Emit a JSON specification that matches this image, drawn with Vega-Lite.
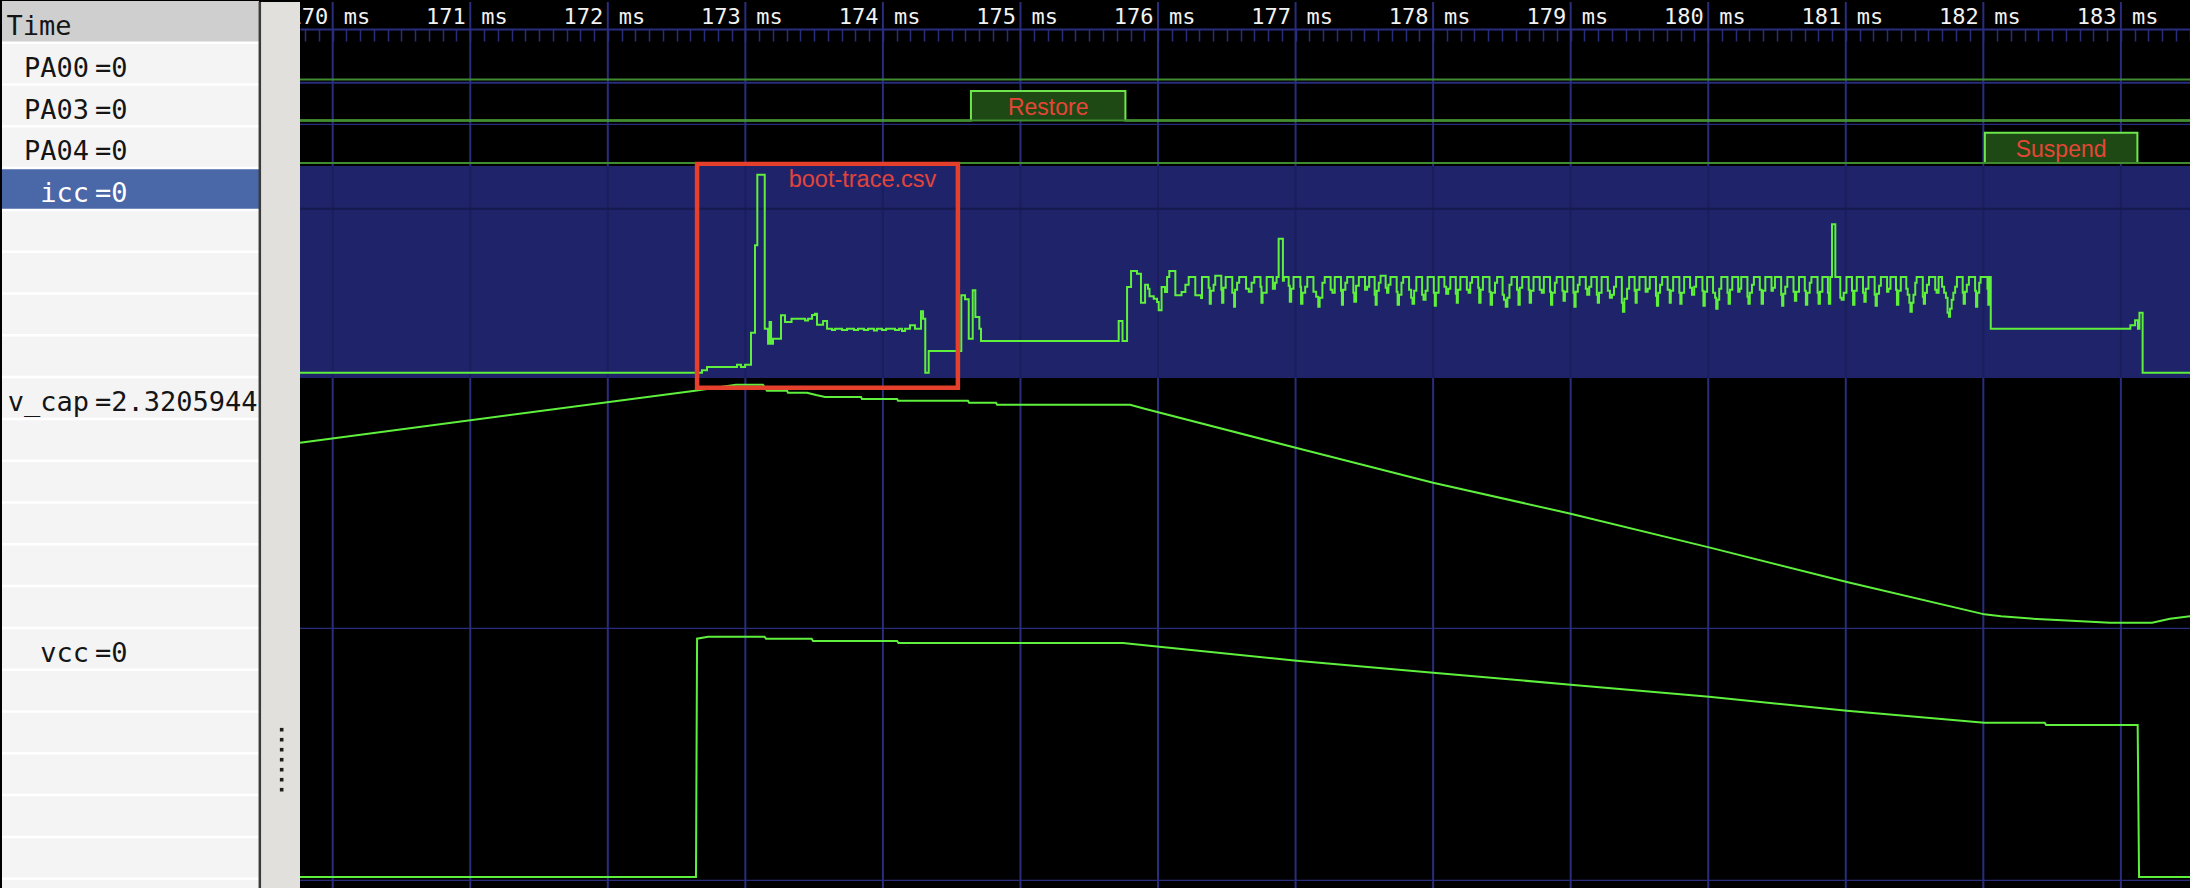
{
"$schema":"https://vega.github.io/schema/vega-lite/v6.json",
"padding":0,"background":"#000000","spacing":0,"bounds":"flush",
"config":{"view":{"stroke":null},"concat":{"spacing":0}},
"resolve":{"scale":{"x":"independent","y":"independent"},"axis":{"x":"independent","y":"independent"}},
"datasets":{
"ticks":[{"t":170,"label":"170"},{"t":171,"label":"171"},{"t":172,"label":"172"},{"t":173,"label":"173"},{"t":174,"label":"174"},{"t":175,"label":"175"},{"t":176,"label":"176"},{"t":177,"label":"177"},{"t":178,"label":"178"},{"t":179,"label":"179"},{"t":180,"label":"180"},{"t":181,"label":"181"},{"t":182,"label":"182"},{"t":183,"label":"183"}],
"rows":[{"r":1,"name":"PA00","val":"=0","sel":false},{"r":2,"name":"PA03","val":"=0","sel":false},{"r":3,"name":"PA04","val":"=0","sel":false},{"r":4,"name":"icc","val":"=0","sel":true},{"r":5},{"r":6},{"r":7},{"r":8},{"r":9,"name":"v_cap","val":"=2.3205944","sel":false},{"r":10},{"r":11},{"r":12},{"r":13},{"r":14},{"r":15,"name":"vcc","val":"=0","sel":false},{"r":16},{"r":17},{"r":18},{"r":19},{"r":20},{"r":21}],
"grip":[{"k":0},{"k":1},{"k":2},{"k":3},{"k":4},{"k":5},{"k":6}],
"pa00":[{"t":169.7623,"v":0},{"t":183.517,"v":0}],
"pa03":[{"t":169.7623,"v":0},{"t":174.64,"v":1},{"t":175.763,"v":0},{"t":183.517,"v":0}],
"pa04":[{"t":169.7623,"v":0},{"t":182.011,"v":1},{"t":183.12,"v":0},{"t":183.517,"v":0}],
"pulses":[{"sig":"PA03","t0":174.64,"t1":175.763,"label":"Restore"},{"sig":"PA04","t0":182.011,"t1":183.12,"label":"Suspend"}],
"note":[{"t0":172.649,"t1":174.545,"label":"boot-trace.csv"}],
"vcap":[{"t":169.7623,"v":2.326},{"t":172.634,"v":2.482},{"t":172.932,"v":2.5},{"t":173.128,"v":2.5},{"t":173.157,"v":2.482},{"t":173.303,"v":2.482},{"t":173.31,"v":2.476},{"t":173.448,"v":2.476},{"t":173.514,"v":2.469},{"t":173.579,"v":2.463},{"t":173.841,"v":2.463},{"t":173.848,"v":2.457},{"t":174.103,"v":2.457},{"t":174.11,"v":2.452},{"t":174.619,"v":2.452},{"t":174.626,"v":2.446},{"t":174.822,"v":2.446},{"t":174.83,"v":2.44},{"t":175.797,"v":2.44},{"t":175.903,"v":2.428},{"t":177.008,"v":2.31},{"t":178.0,"v":2.206},{"t":179.0,"v":2.113},{"t":180.006,"v":2.012},{"t":181.008,"v":1.908},{"t":182.008,"v":1.811},{"t":182.129,"v":1.805},{"t":182.39,"v":1.797},{"t":182.572,"v":1.793},{"t":182.921,"v":1.786},{"t":183.227,"v":1.786},{"t":183.357,"v":1.798},{"t":183.517,"v":1.806}],
"vcc":[{"t":169.7623,"v":0},{"t":172.641,"v":0},{"t":172.649,"v":2.383},{"t":172.729,"v":2.403},{"t":173.139,"v":2.403},{"t":173.15,"v":2.383},{"t":173.482,"v":2.383},{"t":173.492,"v":2.36},{"t":174.103,"v":2.36},{"t":174.113,"v":2.34},{"t":175.746,"v":2.34},{"t":175.903,"v":2.317},{"t":177.008,"v":2.163},{"t":178.0,"v":2.043},{"t":179.0,"v":1.923},{"t":180.006,"v":1.803},{"t":181.008,"v":1.663},{"t":182.008,"v":1.543},{"t":182.446,"v":1.543},{"t":182.456,"v":1.52},{"t":183.122,"v":1.52},{"t":183.132,"v":0},{"t":183.517,"v":0}],
"icc":[{"t":169.7623,"v":0},{"t":172.685,"v":0.24},{"t":172.721,"v":0.57},{"t":172.939,"v":0.8},{"t":172.968,"v":0.57},{"t":172.998,"v":0.8},{"t":173.041,"v":4.0},{"t":173.07,"v":12.74},{"t":173.087,"v":19.8},{"t":173.141,"v":4.4},{"t":173.165,"v":2.9},{"t":173.176,"v":5.07},{"t":173.187,"v":2.9},{"t":173.201,"v":3.4},{"t":173.259,"v":5.74},{"t":173.288,"v":5.07},{"t":173.336,"v":5.4},{"t":173.434,"v":5.22},{"t":173.456,"v":5.4},{"t":173.485,"v":5.77},{"t":173.506,"v":5.9},{"t":173.521,"v":4.8},{"t":173.565,"v":5.17},{"t":173.594,"v":4.4},{"t":173.63,"v":4.27},{"t":173.652,"v":4.4},{"t":173.703,"v":4.27},{"t":173.739,"v":4.4},{"t":173.79,"v":4.27},{"t":173.819,"v":4.4},{"t":173.863,"v":4.27},{"t":173.892,"v":4.4},{"t":173.935,"v":4.22},{"t":173.957,"v":4.4},{"t":173.994,"v":4.27},{"t":174.023,"v":4.4},{"t":174.088,"v":4.27},{"t":174.117,"v":4.4},{"t":174.139,"v":4.17},{"t":174.161,"v":4.4},{"t":174.197,"v":4.74},{"t":174.233,"v":4.4},{"t":174.277,"v":6.14},{"t":174.292,"v":5.4},{"t":174.308,"v":0},{"t":174.333,"v":2.17},{"t":174.57,"v":7.74},{"t":174.597,"v":7.34},{"t":174.624,"v":3.4},{"t":174.653,"v":8.24},{"t":174.672,"v":5.57},{"t":174.701,"v":4.4},{"t":174.713,"v":3.17},{"t":175.714,"v":5.17},{"t":175.742,"v":3.17},{"t":175.775,"v":8.57},{"t":175.804,"v":10.17},{"t":175.847,"v":9.9},{"t":175.876,"v":7.0},{"t":175.906,"v":8.8},{"t":175.927,"v":8.4},{"t":175.938,"v":7.64},{"t":175.969,"v":7.4},{"t":175.993,"v":7.07},{"t":176.005,"v":6.24},{"t":176.026,"v":8.57},{"t":176.051,"v":8.07},{"t":176.066,"v":9.57},{"t":176.082,"v":10.17},{"t":176.126,"v":7.74},{"t":176.171,"v":8.07},{"t":176.199,"v":8.8},{"t":176.223,"v":9.57},{"t":176.271,"v":7.74},{"t":176.313,"v":7.47},
{"t":176.32,"v":9.57},{"t":176.368,"v":8.5},{"t":176.376,"v":6.9},{"t":176.384,"v":8.2},{"t":176.404,"v":8.8},{"t":176.416,"v":9.7},{"t":176.46,"v":8.3},{"t":176.466,"v":7.0},{"t":176.475,"v":8.5},{"t":176.492,"v":9.57},{"t":176.54,"v":8.0},{"t":176.553,"v":6.6},{"t":176.56,"v":8.3},{"t":176.575,"v":9.0},{"t":176.59,"v":9.57},{"t":176.64,"v":8.4},{"t":176.66,"v":8.1},{"t":176.68,"v":9.0},{"t":176.7,"v":9.57},{"t":176.745,"v":8.6},{"t":176.752,"v":7.0},{"t":176.76,"v":8.0},{"t":176.79,"v":9.57},{"t":176.835,"v":8.4},{"t":176.85,"v":9.0},{"t":176.862,"v":9.57},{"t":176.877,"v":13.4},{"t":176.908,"v":9.2},{"t":176.915,"v":9.57},{"t":176.95,"v":8.7},{"t":176.958,"v":7.1},{"t":176.968,"v":8.4},{"t":176.985,"v":9.57},{"t":177.035,"v":8.6},{"t":177.04,"v":6.9},{"t":177.05,"v":8.0},{"t":177.07,"v":8.6},{"t":177.085,"v":9.57},{"t":177.13,"v":8.1},{"t":177.15,"v":7.6},{"t":177.165,"v":6.6},{"t":177.175,"v":7.5},{"t":177.195,"v":9.0},{"t":177.212,"v":9.57},{"t":177.255,"v":8.3},{"t":177.268,"v":8.0},{"t":177.285,"v":9.57},{"t":177.33,"v":8.2},{"t":177.337,"v":6.8},{"t":177.345,"v":8.3},{"t":177.362,"v":9.0},{"t":177.375,"v":9.57},{"t":177.42,"v":8.0},{"t":177.427,"v":7.1},{"t":177.44,"v":8.7},{"t":177.46,"v":9.57},{"t":177.505,"v":8.3},{"t":177.52,"v":8.6},{"t":177.535,"v":9.57},{"t":177.575,"v":7.8},{"t":177.582,"v":6.8},{"t":177.59,"v":8.2},{"t":177.605,"v":9.0},{"t":177.618,"v":9.7},{"t":177.655,"v":8.5},{"t":177.665,"v":8.0},{"t":177.675,"v":8.8},{"t":177.69,"v":9.57},{"t":177.735,"v":8.1},{"t":177.742,"v":6.8},{"t":177.752,"v":7.8},{"t":177.77,"v":9.0},{"t":177.782,"v":9.57},{"t":177.825,"v":8.3},{"t":177.84,"v":7.5},{"t":177.85,"v":6.9},{"t":177.862,"v":8.2},{"t":177.878,"v":9.57},{"t":177.92,"v":7.8},{"t":177.93,"v":7.3},{"t":177.945,"v":8.2},{"t":177.96,"v":9.57},{"t":178.005,"v":8.0},{"t":178.012,"v":6.7},{"t":178.02,"v":8.0},{"t":178.04,"v":9.57},{"t":178.082,"v":8.6},{"t":178.095,"v":7.9},{"t":178.11,"v":8.4},{"t":178.125,"v":9.57},{"t":178.165,"v":7.9},{"t":178.172,"v":7.0},{"t":178.18,"v":8.3},{"t":178.198,"v":9.57},{"t":178.245,"v":8.3},{"t":178.258,"v":8.0},{"t":178.27,"v":9.0},{"t":178.283,"v":9.57},{"t":178.328,"v":8.5},{"t":178.335,"v":7.0},{"t":178.345,"v":8.3},{"t":178.362,"v":9.57},{"t":178.41,"v":8.1},{"t":178.418,"v":6.8},{"t":178.428,"v":8.0},{"t":178.45,"v":9.0},{"t":178.465,"v":9.57},{"t":178.505,"v":7.8},{"t":178.515,"v":7.3},{"t":178.528,"v":6.6},{"t":178.54,"v":7.5},{"t":178.555,"v":8.8},{"t":178.57,"v":9.57},{"t":178.61,"v":8.3},{"t":178.62,"v":6.8},{"t":178.63,"v":8.5},{"t":178.648,"v":9.57},{"t":178.695,"v":8.3},{"t":178.702,"v":7.0},{"t":178.712,"v":8.2},{"t":178.73,"v":9.57},{"t":178.775,"v":8.3},{"t":178.79,"v":8.0},{"t":178.805,"v":9.57},{"t":178.85,"v":8.1},{"t":178.857,"v":6.8},{"t":178.866,"v":8.0},{"t":178.885,"v":9.0},{"t":178.898,"v":9.57},{"t":178.94,"v":8.2},{"t":178.948,"v":7.2},{"t":178.958,"v":8.1},{"t":178.975,"v":9.57},{"t":179.02,"v":8.0},{"t":179.027,"v":6.6},{"t":179.036,"v":8.1},{"t":179.052,"v":8.8},{"t":179.065,"v":9.57},{"t":179.11,"v":8.4},{"t":179.12,"v":7.8},{"t":179.135,"v":8.6},{"t":179.15,"v":9.57},{"t":179.19,"v":7.8},{"t":179.197,"v":7.0},{"t":179.206,"v":8.0},{"t":179.225,"v":9.57},{"t":179.27,"v":8.2},{"t":179.285,"v":7.5},{"t":179.3,"v":7.8},{"t":179.315,"v":8.6},{"t":179.33,"v":9.57},{"t":179.372,"v":7.0},{"t":179.38,"v":6.1},{"t":179.39,"v":7.4},{"t":179.41,"v":8.4},{"t":179.425,"v":9.57},{"t":179.465,"v":8.2},{"t":179.472,"v":7.0},{"t":179.48,"v":8.3},{"t":179.5,"v":9.57},{"t":179.545,"v":8.1},{"t":179.56,"v":8.4},{"t":179.575,"v":9.57},{"t":179.62,"v":7.7},{"t":179.627,"v":6.7},{"t":179.636,"v":8.0},{"t":179.65,"v":8.8},{"t":179.665,"v":9.57},{"t":179.705,"v":8.3},{"t":179.72,"v":7.0},{"t":179.728,"v":8.2},{"t":179.745,"v":9.57},{"t":179.79,"v":8.0},{"t":179.797,"v":6.9},{"t":179.806,"v":8.0},{"t":179.825,"v":9.57},{"t":179.868,"v":8.5},{"t":179.882,"v":7.8},{"t":179.898,"v":8.6},{"t":179.912,"v":9.57},{"t":179.958,"v":8.2},{"t":179.965,"v":6.7},{"t":179.975,"v":8.1},{"t":179.992,"v":9.57},{"t":180.035,"v":8.0},{"t":180.05,"v":7.5},{"t":180.058,"v":6.4},{"t":180.068,"v":7.3},{"t":180.08,"v":8.4},{"t":180.095,"v":9.57},{"t":180.14,"v":8.0},{"t":180.148,"v":6.9},{"t":180.158,"v":8.3},{"t":180.175,"v":9.57},{"t":180.218,"v":8.1},{"t":180.228,"v":8.4},{"t":180.24,"v":9.57},{"t":180.285,"v":7.6},{"t":180.292,"v":6.9},{"t":180.302,"v":8.0},{"t":180.318,"v":8.8},{"t":180.332,"v":9.57},{"t":180.375,"v":8.3},{"t":180.388,"v":6.9},{"t":180.398,"v":8.2},{"t":180.415,"v":9.57},{"t":180.46,"v":8.2},{"t":180.47,"v":8.5},{"t":180.485,"v":9.57},{"t":180.53,"v":7.8},{"t":180.537,"v":6.7},{"t":180.546,"v":7.9},{"t":180.56,"v":8.6},{"t":180.575,"v":9.57},{"t":180.62,"v":8.1},{"t":180.63,"v":7.2},{"t":180.64,"v":8.1},{"t":180.66,"v":9.57},{"t":180.702,"v":8.2},{"t":180.71,"v":6.8},{"t":180.72,"v":8.0},{"t":180.738,"v":9.0},{"t":180.75,"v":9.57},{"t":180.795,"v":8.0},{"t":180.802,"v":6.9},{"t":180.812,"v":8.1},{"t":180.83,"v":9.57},{"t":180.87,"v":8.0},{"t":180.877,"v":6.9},{"t":180.887,"v":9.57},{"t":180.9,"v":14.84},{"t":180.924,"v":9.57},{"t":180.96,"v":7.5},{"t":180.97,"v":7.3},{"t":180.985,"v":8.0},{"t":181.005,"v":9.57},{"t":181.045,"v":8.2},{"t":181.053,"v":6.8},{"t":181.063,"v":8.2},{"t":181.08,"v":9.57},{"t":181.125,"v":8.0},{"t":181.135,"v":7.1},{"t":181.145,"v":8.4},{"t":181.165,"v":9.57},{"t":181.21,"v":7.8},{"t":181.217,"v":6.7},{"t":181.226,"v":7.9},{"t":181.242,"v":8.7},{"t":181.255,"v":9.57},{"t":181.3,"v":8.1},{"t":181.31,"v":8.4},{"t":181.325,"v":9.57},{"t":181.365,"v":8.3},{"t":181.372,"v":6.8},{"t":181.382,"v":8.2},{"t":181.4,"v":9.57},{"t":181.44,"v":8.4},{"t":181.45,"v":7.8},{"t":181.462,"v":7.0},{"t":181.47,"v":6.1},{"t":181.48,"v":7.0},{"t":181.492,"v":7.8},{"t":181.505,"v":9.0},{"t":181.515,"v":9.57},{"t":181.56,"v":7.6},{"t":181.567,"v":6.9},{"t":181.576,"v":8.0},{"t":181.59,"v":8.8},{"t":181.605,"v":9.57},{"t":181.65,"v":8.3},{"t":181.66,"v":8.0},{"t":181.675,"v":9.57},{"t":181.7,"v":8.6},{"t":181.715,"v":8.0},{"t":181.728,"v":7.5},{"t":181.74,"v":6.0},{"t":181.75,"v":5.6},{"t":181.758,"v":6.4},{"t":181.77,"v":7.3},{"t":181.782,"v":8.0},{"t":181.795,"v":8.6},{"t":181.808,"v":9.57},{"t":181.85,"v":8.0},{"t":181.857,"v":6.9},{"t":181.866,"v":8.1},{"t":181.88,"v":8.8},{"t":181.895,"v":9.57},{"t":181.94,"v":8.2},{"t":181.947,"v":6.6},{"t":181.956,"v":8.0},{"t":181.97,"v":9.0},{"t":181.98,"v":9.57},{"t":182.03,"v":8.4},{"t":182.036,"v":6.8},{"t":182.043,"v":9.57},{"t":182.054,"v":4.4},{"t":183.069,"v":4.74},{"t":183.103,"v":5.24},{"t":183.124,"v":4.4},{"t":183.135,"v":6.0},{"t":183.158,"v":0},{"t":183.517,"v":0}]
},
"hconcat":[
{"width":257,"height":888,"view":{"fill":"#f4f4f4","stroke":null},
"layer":[
{"data":{"values":[{"part":"header"}]},"mark":{"type":"rect","color":"#cfcfcf"},"encoding":{"y":{"datum":0,"type":"quantitative","scale":{"domain":[0.0263,21.27],"reverse":true,"nice":false,"zero":false},"axis":null},"y2":{"datum":1}}},
{"data":{"values":[{"part":"selected"}]},"mark":{"type":"rect","color":"#4a67a7"},"encoding":{"y":{"datum":4,"type":"quantitative","scale":{"domain":[0.0263,21.27],"reverse":true,"nice":false,"zero":false},"axis":null},"y2":{"datum":5}}},
{"data":{"name":"rows"},"mark":{"type":"rule","color":"#ffffff","strokeWidth":2.5},"encoding":{"y":{"field":"r","type":"quantitative","scale":{"domain":[0.0263,21.27],"reverse":true,"nice":false,"zero":false},"axis":null}}},
{"data":{"values":[{"label":"Time"}]},"mark":{"type":"text","align":"left","baseline":"alphabetic","dx":-124,"dy":34,"font":"DejaVu Sans Mono","fontSize":27,"color":"#151515"},"encoding":{"y":{"datum":0,"type":"quantitative","scale":{"domain":[0.0263,21.27],"reverse":true,"nice":false,"zero":false},"axis":null},"text":{"field":"label"}}},
{"data":{"name":"rows"},"transform":[{"filter":"isValid(datum.name)"}],"mark":{"type":"text","align":"right","baseline":"alphabetic","dx":-41.5,"dy":34,"font":"DejaVu Sans Mono","fontSize":27,"clip":true},"encoding":{"y":{"field":"r","type":"quantitative","scale":{"domain":[0.0263,21.27],"reverse":true,"nice":false,"zero":false},"axis":null},"text":{"field":"name"},"color":{"condition":{"test":"datum.sel","value":"#ffffff"},"value":"#151515"}}},
{"data":{"name":"rows"},"transform":[{"filter":"isValid(datum.name)"}],"mark":{"type":"text","align":"left","baseline":"alphabetic","dx":-35.5,"dy":34,"font":"DejaVu Sans Mono","fontSize":27,"clip":true},"encoding":{"y":{"field":"r","type":"quantitative","scale":{"domain":[0.0263,21.27],"reverse":true,"nice":false,"zero":false},"axis":null},"text":{"field":"val"},"color":{"condition":{"test":"datum.sel","value":"#ffffff"},"value":"#151515"}}}
]},
{"width":41,"height":888,"view":{"fill":"#e1e0dc","stroke":null},
"layer":[
{"data":{"values":[{"edge":"left"}]},"mark":{"type":"rule","color":"#3b3b3b","strokeWidth":2.5},"encoding":{"x":{"datum":0.02,"type":"quantitative","scale":{"domain":[0,1],"nice":false,"zero":false},"axis":null}}},
{"data":{"name":"grip"},"mark":{"type":"point","shape":"square","filled":true,"size":13,"color":"#1e1e1e","opacity":1},"encoding":{"x":{"datum":0.553,"type":"quantitative","scale":{"domain":[0,1],"nice":false,"zero":false},"axis":null},"y":{"field":"k","type":"quantitative","scale":{"domain":[-72.77,16.03],"reverse":true,"nice":false,"zero":false},"axis":null}}}
]},
{"spacing":0,"bounds":"flush","resolve":{"scale":{"x":"independent","y":"independent"},"axis":{"x":"independent","y":"independent"}},
"vconcat":[
{"width":1892,"height":41,"view":{"fill":"#000000","stroke":null},
"layer":[
{"data":{"name":"ticks"},"mark":{"type":"rule","color":"#292d7e","strokeWidth":2},"encoding":{"x":{"field":"t","type":"quantitative","scale":{"domain":[169.7623,183.517],"nice":false,"zero":false},"axis":{"orient":"bottom","offset":-14,"labels":false,"grid":false,"title":null,"domainColor":"#292d7e","domainWidth":2,"tickColor":"#292d7e","tickWidth":1.5,"tickSize":12,"tickCount":140}}}},
{"data":{"name":"ticks"},"mark":{"type":"text","align":"right","baseline":"alphabetic","dx":-4.5,"dy":1.2,"font":"DejaVu Sans Mono","fontSize":22,"color":"#f2f2f2","clip":true},"encoding":{"x":{"field":"t","type":"quantitative","scale":{"domain":[169.7623,183.517],"nice":false,"zero":false},"axis":{"orient":"bottom","offset":-14,"labels":false,"grid":false,"title":null,"domainColor":"#292d7e","domainWidth":2,"tickColor":"#292d7e","tickWidth":1.5,"tickSize":12,"tickCount":140}},"text":{"field":"label"}}},
{"data":{"name":"ticks"},"mark":{"type":"text","align":"left","baseline":"alphabetic","dx":11,"dy":1.2,"font":"DejaVu Sans Mono","fontSize":22,"color":"#f2f2f2","clip":true,"text":"ms"},"encoding":{"x":{"field":"t","type":"quantitative","scale":{"domain":[169.7623,183.517],"nice":false,"zero":false},"axis":{"orient":"bottom","offset":-14,"labels":false,"grid":false,"title":null,"domainColor":"#292d7e","domainWidth":2,"tickColor":"#292d7e","tickWidth":1.5,"tickSize":12,"tickCount":140}}}}
]},
{"width":1892,"height":41,"view":{"fill":"#000000","stroke":null},
"layer":[
{"data":{"name":"ticks"},"mark":{"type":"rule","color":"#292d7e","strokeWidth":2},"encoding":{"x":{"field":"t","type":"quantitative","scale":{"domain":[169.7623,183.517],"nice":false,"zero":false},"axis":null}}},
{"data":{"name":"pa00"},"mark":{"type":"line","interpolate":"step-after","color":"#408c30","strokeWidth":2},"encoding":{"x":{"field":"t","type":"quantitative","scale":{"domain":[169.7623,183.517],"nice":false,"zero":false},"axis":null},"y":{"field":"v","type":"quantitative","scale":{"domain":[-0.1525,1.2373],"nice":false,"zero":false},"axis":null}}},
{"data":{"values":[{"sep":1}]},"mark":{"type":"rule","color":"#292d7e","strokeWidth":2},"encoding":{"y":{"datum":-0.11,"type":"quantitative","scale":{"domain":[-0.1525,1.2373],"nice":false,"zero":false},"axis":null}}}
]},
{"width":1892,"height":41,"view":{"fill":"#000000","stroke":null},
"layer":[
{"data":{"name":"ticks"},"mark":{"type":"rule","color":"#292d7e","strokeWidth":2},"encoding":{"x":{"field":"t","type":"quantitative","scale":{"domain":[169.7623,183.517],"nice":false,"zero":false},"axis":null}}},
{"data":{"name":"pulses"},"transform":[{"filter":"datum.sig == 'PA03'"}],"mark":{"type":"rect","color":"#1e4814"},"encoding":{"x":{"field":"t0","type":"quantitative","scale":{"domain":[169.7623,183.517],"nice":false,"zero":false},"axis":null},"x2":{"field":"t1"},"y":{"datum":0,"type":"quantitative","scale":{"domain":[-0.1525,1.2373],"nice":false,"zero":false},"axis":null},"y2":{"datum":1}}},
{"data":{"name":"pa03"},"mark":{"type":"line","interpolate":"step-after","color":"#6fe64c","strokeWidth":2},"encoding":{"x":{"field":"t","type":"quantitative","scale":{"domain":[169.7623,183.517],"nice":false,"zero":false},"axis":null},"y":{"field":"v","type":"quantitative","scale":{"domain":[-0.1525,1.2373],"nice":false,"zero":false},"axis":null}}},
{"data":{"values":[{"level":0}]},"mark":{"type":"rule","color":"#408c30","strokeWidth":2},"encoding":{"y":{"field":"level","type":"quantitative","scale":{"domain":[-0.1525,1.2373],"nice":false,"zero":false},"axis":null}}},
{"data":{"name":"pulses"},"transform":[{"filter":"datum.sig == 'PA03'"},{"calculate":"(datum.t0 + datum.t1) / 2","as":"tm"}],"mark":{"type":"text","align":"center","baseline":"middle","dy":2,"font":"Liberation Sans","fontSize":23,"color":"#e64637"},"encoding":{"x":{"field":"tm","type":"quantitative","scale":{"domain":[169.7623,183.517],"nice":false,"zero":false},"axis":null},"y":{"datum":0.5,"type":"quantitative","scale":{"domain":[-0.1525,1.2373],"nice":false,"zero":false},"axis":null},"text":{"field":"label"}}},
{"data":{"values":[{"sep":1}]},"mark":{"type":"rule","color":"#292d7e","strokeWidth":2},"encoding":{"y":{"datum":-0.14,"type":"quantitative","scale":{"domain":[-0.1525,1.2373],"nice":false,"zero":false},"axis":null}}}
]},
{"width":1892,"height":41,"view":{"fill":"#000000","stroke":null},
"layer":[
{"data":{"name":"ticks"},"mark":{"type":"rule","color":"#292d7e","strokeWidth":2},"encoding":{"x":{"field":"t","type":"quantitative","scale":{"domain":[169.7623,183.517],"nice":false,"zero":false},"axis":null}}},
{"data":{"name":"pulses"},"transform":[{"filter":"datum.sig == 'PA04'"}],"mark":{"type":"rect","color":"#1e4814"},"encoding":{"x":{"field":"t0","type":"quantitative","scale":{"domain":[169.7623,183.517],"nice":false,"zero":false},"axis":null},"x2":{"field":"t1"},"y":{"datum":0,"type":"quantitative","scale":{"domain":[-0.099,1.254],"nice":false,"zero":false},"axis":null},"y2":{"datum":1}}},
{"data":{"name":"pa04"},"mark":{"type":"line","interpolate":"step-after","color":"#6fe64c","strokeWidth":2},"encoding":{"x":{"field":"t","type":"quantitative","scale":{"domain":[169.7623,183.517],"nice":false,"zero":false},"axis":null},"y":{"field":"v","type":"quantitative","scale":{"domain":[-0.099,1.254],"nice":false,"zero":false},"axis":null}}},
{"data":{"values":[{"level":0}]},"mark":{"type":"rule","color":"#408c30","strokeWidth":2},"encoding":{"y":{"field":"level","type":"quantitative","scale":{"domain":[-0.099,1.254],"nice":false,"zero":false},"axis":null}}},
{"data":{"name":"pulses"},"transform":[{"filter":"datum.sig == 'PA04'"},{"calculate":"(datum.t0 + datum.t1) / 2","as":"tm"}],"mark":{"type":"text","align":"center","baseline":"middle","dy":2,"font":"Liberation Sans","fontSize":23,"color":"#e64637"},"encoding":{"x":{"field":"tm","type":"quantitative","scale":{"domain":[169.7623,183.517],"nice":false,"zero":false},"axis":null},"y":{"datum":0.5,"type":"quantitative","scale":{"domain":[-0.099,1.254],"nice":false,"zero":false},"axis":null},"text":{"field":"label"}}},
{"data":{"name":"note"},"mark":{"type":"rect","filled":false,"color":"#e5402b","stroke":"#e5402b","strokeWidth":4.5,"clip":true},"encoding":{"x":{"field":"t0","type":"quantitative","scale":{"domain":[169.7623,183.517],"nice":false,"zero":false},"axis":null},"x2":{"field":"t1"},"y":{"datum":-0.033,"type":"quantitative","scale":{"domain":[-0.099,1.254],"nice":false,"zero":false},"axis":null},"y2":{"datum":-1}}}
]},
{"width":1892,"height":212,"view":{"fill":"#1f236a","stroke":null},
"layer":[
{"data":{"name":"ticks"},"mark":{"type":"rule","color":"#1b1e5c","strokeWidth":2},"encoding":{"x":{"field":"t","type":"quantitative","scale":{"domain":[169.7623,183.517],"nice":false,"zero":false},"axis":null}}},
{"data":{"values":[{"row":1}]},"mark":{"type":"rule","color":"#161a4e","strokeWidth":2},"encoding":{"y":{"datum":16.4,"type":"quantitative","scale":{"domain":[-0.53,20.67],"nice":false,"zero":false},"axis":null}}},
{"data":{"name":"icc"},"mark":{"type":"line","interpolate":"step-after","color":"#5ef03c","strokeWidth":2},"encoding":{"x":{"field":"t","type":"quantitative","scale":{"domain":[169.7623,183.517],"nice":false,"zero":false},"axis":null},"y":{"field":"v","type":"quantitative","scale":{"domain":[-0.53,20.67],"nice":false,"zero":false},"axis":null}}},
{"data":{"name":"note"},"mark":{"type":"rect","filled":false,"color":"#e5402b","stroke":"#e5402b","strokeWidth":4.5,"clip":true},"encoding":{"x":{"field":"t0","type":"quantitative","scale":{"domain":[169.7623,183.517],"nice":false,"zero":false},"axis":null},"x2":{"field":"t1"},"y":{"datum":25,"type":"quantitative","scale":{"domain":[-0.53,20.67],"nice":false,"zero":false},"axis":null},"y2":{"datum":-5}}},
{"data":{"name":"note"},"mark":{"type":"text","align":"left","baseline":"alphabetic","font":"Liberation Sans","fontSize":23.5,"color":"#e0453a"},"encoding":{"x":{"datum":173.315,"type":"quantitative","scale":{"domain":[169.7623,183.517],"nice":false,"zero":false},"axis":null},"y":{"datum":18.57,"type":"quantitative","scale":{"domain":[-0.53,20.67],"nice":false,"zero":false},"axis":null},"text":{"field":"label"}}}
]},
{"width":1892,"height":251,"view":{"fill":"#000000","stroke":null},
"layer":[
{"data":{"name":"ticks"},"mark":{"type":"rule","color":"#292d7e","strokeWidth":2},"encoding":{"x":{"field":"t","type":"quantitative","scale":{"domain":[169.7623,183.517],"nice":false,"zero":false},"axis":null}}},
{"data":{"name":"vcap"},"mark":{"type":"line","color":"#5ef03c","strokeWidth":2},"encoding":{"x":{"field":"t","type":"quantitative","scale":{"domain":[169.7623,183.517],"nice":false,"zero":false},"axis":null},"y":{"field":"v","type":"quantitative","scale":{"domain":[1.7671,2.5201],"nice":false,"zero":false},"axis":null}}},
{"data":{"name":"note"},"mark":{"type":"rect","filled":false,"color":"#e5402b","stroke":"#e5402b","strokeWidth":4.5,"clip":true},"encoding":{"x":{"field":"t0","type":"quantitative","scale":{"domain":[169.7623,183.517],"nice":false,"zero":false},"axis":null},"x2":{"field":"t1"},"y":{"datum":2.7,"type":"quantitative","scale":{"domain":[1.7671,2.5201],"nice":false,"zero":false},"axis":null},"y2":{"datum":2.4907}}},
{"data":{"values":[{"sep":1}]},"mark":{"type":"rule","color":"#292d7e","strokeWidth":2},"encoding":{"y":{"datum":1.768,"type":"quantitative","scale":{"domain":[1.7671,2.5201],"nice":false,"zero":false},"axis":null}}}
]},
{"width":1892,"height":252,"view":{"fill":"#000000","stroke":null},
"layer":[
{"data":{"name":"ticks"},"mark":{"type":"rule","color":"#292d7e","strokeWidth":2},"encoding":{"x":{"field":"t","type":"quantitative","scale":{"domain":[169.7623,183.517],"nice":false,"zero":false},"axis":null}}},
{"data":{"name":"vcc"},"mark":{"type":"line","color":"#5ef03c","strokeWidth":2},"encoding":{"x":{"field":"t","type":"quantitative","scale":{"domain":[169.7623,183.517],"nice":false,"zero":false},"axis":null},"y":{"field":"v","type":"quantitative","scale":{"domain":[-0.04,2.48],"nice":false,"zero":false},"axis":null}}},
{"data":{"values":[{"sep":1}]},"mark":{"type":"rule","color":"#292d7e","strokeWidth":2},"encoding":{"y":{"datum":-0.037,"type":"quantitative","scale":{"domain":[-0.04,2.48],"nice":false,"zero":false},"axis":null}}}
]},
{"width":1892,"height":9,"view":{"fill":"#000000","stroke":null},
"layer":[
{"data":{"name":"ticks"},"mark":{"type":"rule","color":"#292d7e","strokeWidth":2},"encoding":{"x":{"field":"t","type":"quantitative","scale":{"domain":[169.7623,183.517],"nice":false,"zero":false},"axis":null}}}
]}
]}
]
}
